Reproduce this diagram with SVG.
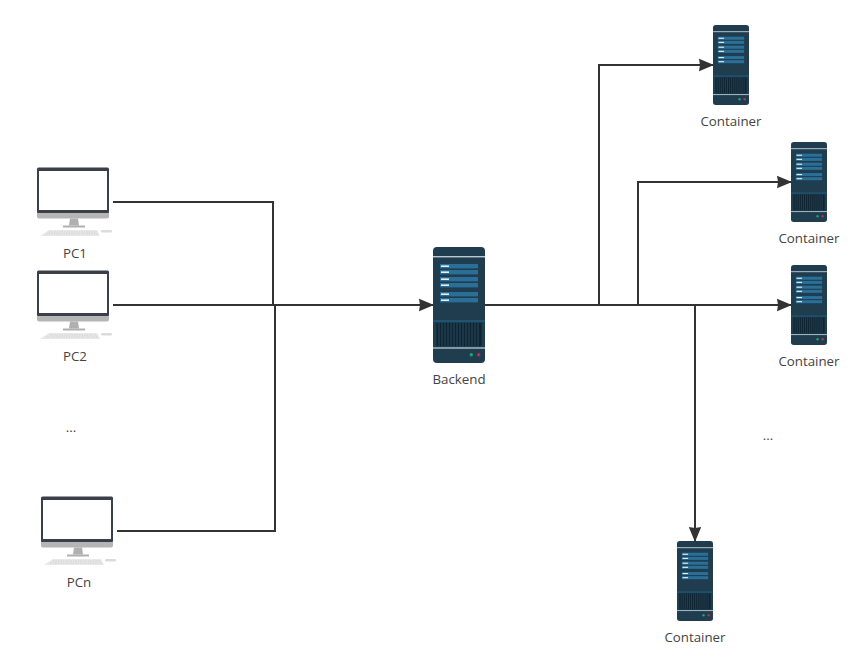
<svg xmlns="http://www.w3.org/2000/svg" width="852" height="660" viewBox="0 0 852 660">
<style>
text{font-family:"Open Sans","Liberation Sans",sans-serif;font-size:13.3px;fill:#444;text-anchor:middle}
.c{fill:none;stroke:#333;stroke-width:2}
</style>
<defs>
<marker id="a" markerUnits="userSpaceOnUse" markerWidth="18" markerHeight="14" refX="15" refY="7" orient="auto"><path d="M0 0.8L15 7L0 13.2L1 7Z" fill="#333"/></marker>
<symbol id="srv" viewBox="0 0 52 116" preserveAspectRatio="none">
<rect width="52" height="116" rx="4" fill="#1f3d4f"/>
<rect y="9" width="52" height="1.4" fill="#b9c9d1"/>
<g fill="#2a6f97"><rect x="7" y="17" width="38" height="4.4"/><rect x="7" y="23" width="38" height="4.4"/><rect x="7" y="30" width="38" height="4.4"/><rect x="7" y="36" width="38" height="4.4"/><rect x="7" y="45" width="38" height="4.4"/><rect x="7" y="51" width="38" height="4.4"/></g>
<g fill="#e4eff5"><rect x="8" y="18.4" width="8" height="1.6"/><rect x="8" y="24.4" width="8" height="1.6"/><rect x="8" y="31.4" width="8" height="1.6"/><rect x="8" y="37.4" width="8" height="1.6"/><rect x="8" y="46.4" width="8" height="1.6"/><rect x="8" y="52.4" width="8" height="1.6"/></g>
<rect y="73.5" width="52" height="1" fill="#1d6f96"/>
<rect x="3.5" y="76" width="45" height="23" fill="#0f2432"/>
<path d="M6 76V99M9 76V99M12 76V99M15 76V99M18 76V99M21 76V99M24 76V99M27 76V99M30 76V99M33 76V99M36 76V99M39 76V99M42 76V99M45 76V99" stroke="#2b4a5c" stroke-width="1" fill="none"/>
<rect y="100.4" width="52" height="1.2" fill="#c7d6dd"/>
<circle cx="38.3" cy="107.7" r="1.7" fill="#1fa66b"/>
<circle cx="45.7" cy="107.7" r="1.7" fill="#b8324f"/>
</symbol>
<symbol id="pc" viewBox="0 0 76 70">
<rect x="0" y="0.5" width="72" height="46" rx="1.5" fill="#3a3f4a"/>
<rect x="2" y="4" width="68" height="39" fill="#fff"/>
<path d="M0 46H72V49.5Q72 51.5 70 51.5H2Q0 51.5 0 49.5Z" fill="#b5b5b5"/>
<path d="M33 51.5H41L42 58.5H32Z" fill="#b0b0b0"/>
<rect x="26" y="58.5" width="22" height="2" fill="#b0b0b0"/>
<path d="M3 69L12 63H60L63 69Z" fill="#e8e8e8"/>
<path d="M12 65H60M9 67H61" stroke="#d2d2d2" stroke-width="1" stroke-dasharray="1.5 1" fill="none"/>
<rect x="64" y="63" width="11" height="2.5" rx="1.2" fill="#dcdcdc"/>
</symbol>
</defs>
<g id="connectors">
<path class="c" d="M113 202H273V305"/>
<path class="c" d="M113 305H434" marker-end="url(#a)"/>
<path class="c" d="M117 531H275V305"/>
<path class="c" d="M485 305H792" marker-end="url(#a)"/>
<path class="c" d="M599 305V65H714" marker-end="url(#a)"/>
<path class="c" d="M638 305V182H792" marker-end="url(#a)"/>
<path class="c" d="M695 305V542" marker-end="url(#a)"/>
</g>
<g id="pc1"><use href="#pc" x="37" y="167" width="76" height="70"/><text x="75" y="258">PC1</text></g>
<g id="pc2"><use href="#pc" x="37" y="270" width="76" height="70"/><text x="75" y="361">PC2</text></g>
<g id="pcdots"><text x="71" y="432">...</text></g>
<g id="pcn"><use href="#pc" x="41" y="496" width="76" height="70"/><text x="79" y="587">PCn</text></g>
<g id="backend"><use href="#srv" x="433" y="247" width="52" height="116"/><text x="459" y="384">Backend</text></g>
<g id="container1"><use href="#srv" x="713" y="25" width="36" height="80"/><text x="731" y="126">Container</text></g>
<g id="container2"><use href="#srv" x="791" y="142" width="36" height="80"/><text x="809" y="243">Container</text></g>
<g id="container3"><use href="#srv" x="791" y="265" width="36" height="80"/><text x="809" y="366">Container</text></g>
<g id="containerdots"><text x="768" y="440">...</text></g>
<g id="container4"><use href="#srv" x="677" y="541" width="36" height="80"/><text x="695" y="642">Container</text></g>
</svg>
